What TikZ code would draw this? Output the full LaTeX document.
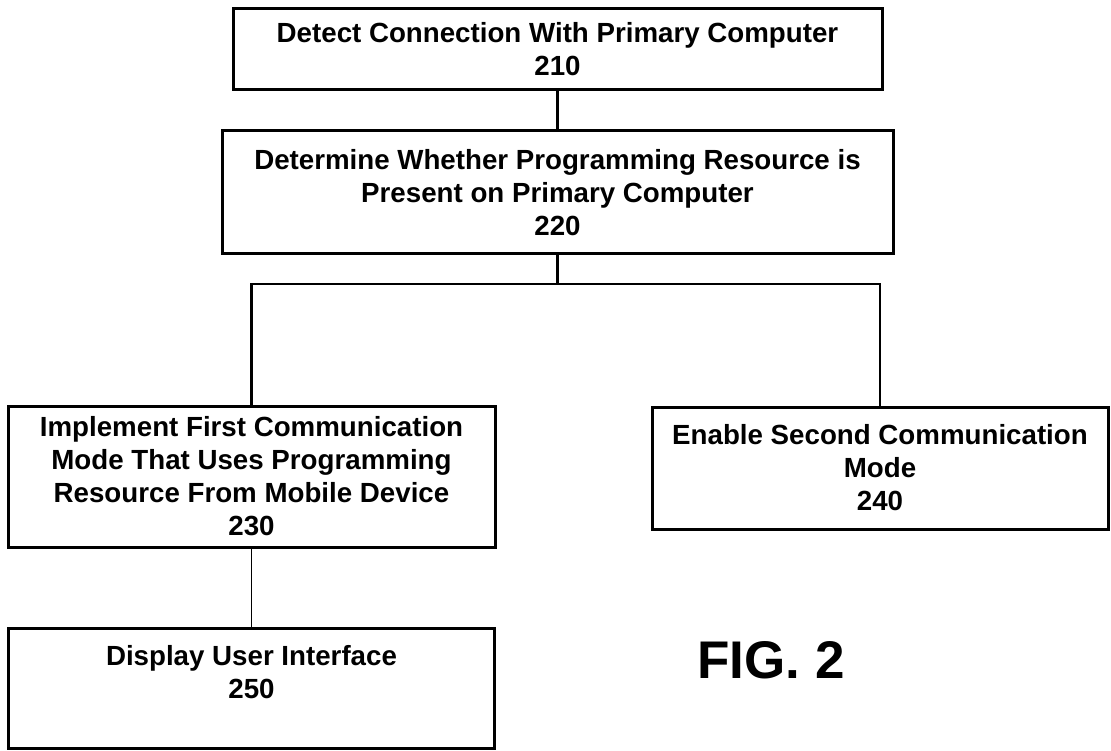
\documentclass[tikz,border=0pt]{standalone}
\usepackage{fontspec}
\setmainfont{Liberation Sans}
\begin{document}
\begin{tikzpicture}[x=1pt,y=-1pt,
  box/.style={draw, line width=3pt, align=center, inner sep=0pt,
    font=\fontsize{27.7}{33}\selectfont\bfseries},
  link/.style={line width=2.8pt},
  thinlink/.style={line width=1.2pt},
  figlabel/.style={font=\fontsize{53}{60}\selectfont\bfseries, inner sep=0pt, anchor=base}]
\useasboundingbox (0,0) rectangle (1111,751);
\node[box, minimum width=649pt, minimum height=81pt] (b210) at (557.5,49.5)
  {Detect Connection With Primary Computer\\210};
\node[box, minimum width=671pt, minimum height=123pt] (b220) at (557.5,192.5)
  {Determine Whether Programming Resource is\\Present on Primary Computer\\220};
\node[box, minimum width=487pt, minimum height=141pt] (b230) at (251.5,476.5)
  {Implement First Communication\\Mode That Uses Programming\\Resource From Mobile Device\\230};
\node[box, minimum width=456pt, minimum height=122pt] (b240) at (880,468)
  {Enable Second Communication\\Mode\\240};
\node[box, minimum width=486pt, minimum height=120pt] (b250) at (251.5,688)
  {Display User Interface\\250\\~};
\node[figlabel] (fig) at (771,678) {FIG. 2};
\coordinate (split) at (557.5,284);
\draw[link] (b210.south) -- (b220.north);
\draw[link] (b220.south) -- (split);
\draw[link] (split) -| (b230.north);
\draw[link] (split) -| (b240.north);
\draw[thinlink] (b230.south) -- (b250.north);
\end{tikzpicture}
\end{document}
